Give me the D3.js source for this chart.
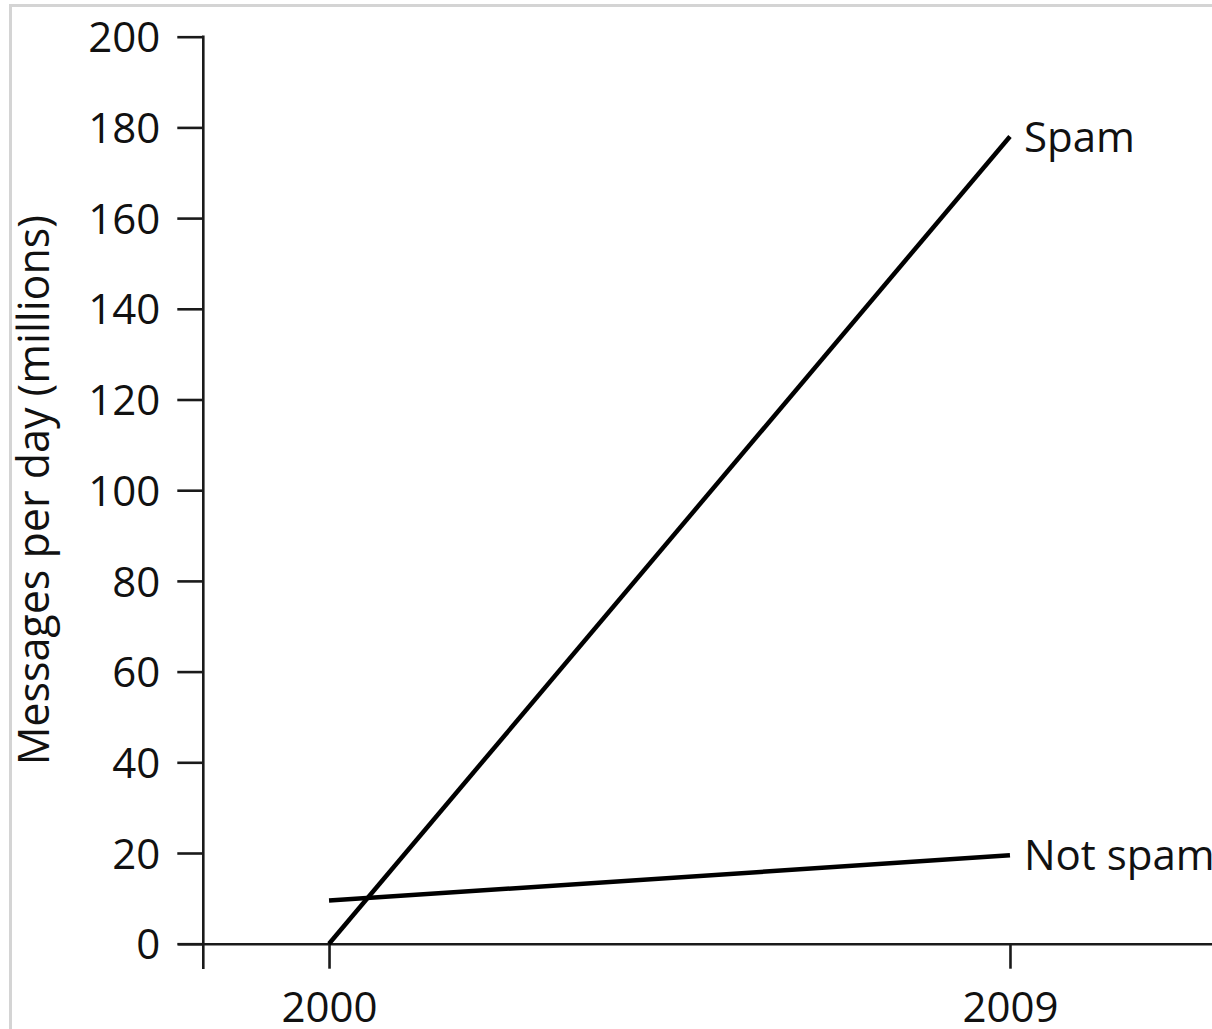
<!DOCTYPE html>
<html><head><meta charset="utf-8">
<script src="https://cdn.jsdelivr.net/npm/d3@7"></script>
<style>body{margin:0;background:#fff}svg{display:block}</style>
</head><body>
<script>
const years = [2000, 2009];
const spam = [0, 178];
const notSpam = [9.5, 19.5];
const yTicks = [0, 20, 40, 60, 80, 100, 120, 140, 160, 180, 200];
const xTicks = [2000, 2009];
const seriesNames = ["Spam", "Not spam"];
const yLabel = "Messages per day (millions)";

const W = 1212, H = 1029;
const svg = d3.select("body").append("svg").attr("width", W).attr("height", H);
const font = "'Open Sans', sans-serif";

// light frame
svg.append("path").attr("d", `M10.5,${H+5} L10.5,5.5 L${W+5},5.5`)
  .attr("fill", "none").attr("stroke", "#d4d4d4").attr("stroke-width", 3);

const x = d3.scaleLinear().domain([1998, 2011.67]).range([177.7, 1212]);
const y = d3.scaleLinear().domain([0, 200]).range([943.7, 36.7]);
const axisColor = "#1a1a1a";

// y axis
const yAxis = svg.append("g").attr("transform", `translate(203.3,0)`)
  .call(d3.axisLeft(y).tickValues(yTicks).tickSize(26).tickPadding(17).tickSizeOuter(0));
yAxis.select(".domain").remove();
yAxis.selectAll("line").attr("stroke", axisColor).attr("stroke-width", 2.6);
yAxis.selectAll("text").attr("font-family", font).attr("font-size", 42).attr("fill", "#111")
  .attr("dy", "0.36em");
svg.append("line").attr("x1", 203.3).attr("x2", 203.3).attr("y1", y(200) - 1.3).attr("y2", 969)
  .attr("stroke", axisColor).attr("stroke-width", 2.6);

// x axis
const xAxis = svg.append("g").attr("transform", `translate(0,${y(0)})`)
  .call(d3.axisBottom(x).tickValues(xTicks).tickFormat(d3.format("d")).tickSize(25).tickPadding(23).tickSizeOuter(0));
xAxis.select(".domain").attr("stroke", axisColor).attr("stroke-width", 2.6);
xAxis.selectAll("line").attr("stroke", axisColor).attr("stroke-width", 2.6);
xAxis.selectAll("text").attr("font-family", font).attr("font-size", 42).attr("fill", "#111");

// y label
svg.append("text").attr("transform", `translate(49,${y(100)}) rotate(-90)`)
  .attr("text-anchor", "middle").attr("font-family", font).attr("font-size", 43).attr("fill", "#111")
  .text(yLabel);

// lines
const line = d3.line().x(d => x(d[0])).y(d => y(d[1]));
const series = [spam, notSpam];
series.forEach((vals, i) => {
  const pts = years.map((yr, j) => [yr, vals[j]]);
  svg.append("path").attr("d", line(pts)).attr("fill", "none")
    .attr("stroke", "#000").attr("stroke-width", 4.5).attr("stroke-linecap", "butt");
  svg.append("text").attr("x", x(years[1]) + 14).attr("y", y(vals[1]))
    .attr("dy", "0.36em").attr("font-family", font).attr("font-size", 42).attr("fill", "#111")
    .text(seriesNames[i]);
});
</script>
</body></html>
